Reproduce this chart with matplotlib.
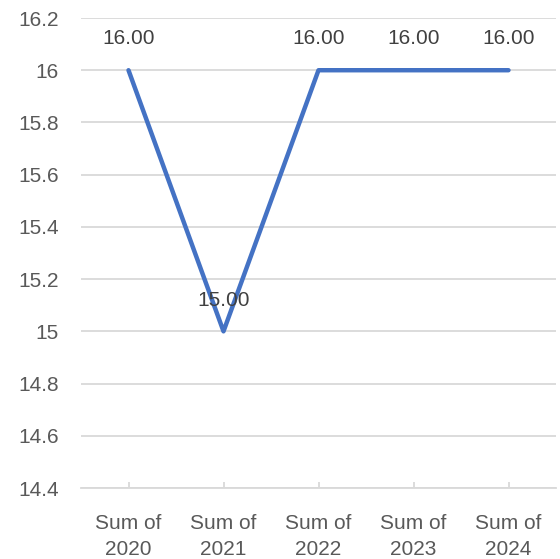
import matplotlib
matplotlib.use("Agg")
import matplotlib.pyplot as plt

categories = ["Sum of\n2020", "Sum of\n2021", "Sum of\n2022", "Sum of\n2023", "Sum of\n2024"]
values = [16.0, 15.0, 16.0, 16.0, 16.0]
yticks = [14.4, 14.6, 14.8, 15.0, 15.2, 15.4, 15.6, 15.8, 16.0, 16.2]
ytick_labels = ["14.4", "14.6", "14.8", "15", "15.2", "15.4", "15.6", "15.8", "16", "16.2"]

plt.rcParams['font.family'] = ['Liberation Sans', 'DejaVu Sans']
text_color = "#595959"
grid_color = "#d9d9d9"

fig = plt.figure(figsize=(5.6, 5.59), dpi=100)
ax = fig.add_axes([81/560, (559-488)/559, (556-81)/560, (488-18)/559])

x = list(range(len(categories)))
ax.plot(x, values, color="#4472C4", linewidth=3.2, solid_capstyle="round", zorder=3)

for xi, v in zip(x, values):
    ax.annotate(f"{v:.2f}", (xi, v), xytext=(0, 22.5), textcoords="offset points",
                ha="center", va="center", fontsize=15, color="#404040", zorder=4)

ax.set_xlim(-0.5, len(categories) - 0.5)
ax.set_ylim(14.4, 16.2)
ax.set_yticks(yticks)
ax.set_yticklabels(ytick_labels)
ax.set_xticks(x)
ax.set_xticklabels(categories, linespacing=1.45)

ax.grid(axis="y", color=grid_color, linewidth=1.3)
ax.set_axisbelow(True)
for s in ["top", "right", "left"]:
    ax.spines[s].set_visible(False)
ax.spines["bottom"].set_color(grid_color)
ax.spines["bottom"].set_linewidth(1.3)

ax.tick_params(axis="y", length=0, pad=16, labelsize=15, labelcolor=text_color)
ax.tick_params(axis="x", direction="in", length=4, color=grid_color, width=1.3,
               pad=19, labelsize=15, labelcolor=text_color)

fig.savefig("out.png", dpi=100, facecolor="white")
